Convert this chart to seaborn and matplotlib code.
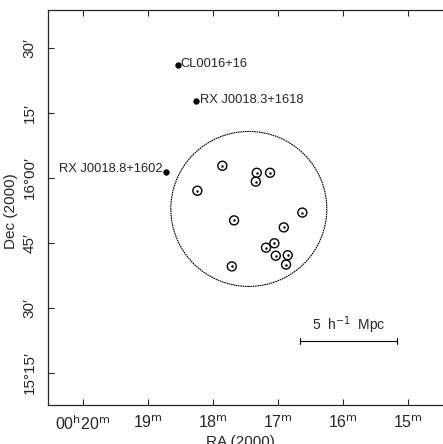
import matplotlib
matplotlib.use("Agg")
import matplotlib.pyplot as plt
from matplotlib.patches import Ellipse
import seaborn as sns
import pandas as pd

sns.set_style("ticks")
plt.rcParams['font.family'] = ['Liberation Sans', 'DejaVu Sans']

# Named sources (RA in minutes past 0h, Dec in degrees)
src_names = ["CL0016+16", "RX J0018.3+1618", "RX J0018.8+1602"]
src_ra = [18.54, 18.26, 18.72]
src_dec = [16.435, 16.296, 16.023]

# Circled objects inside the field
obj_ra = [17.857, 17.328, 17.123, 17.343, 18.242, 16.626, 17.677,
          16.912, 17.057, 17.185, 17.035, 16.851, 16.877, 17.712]
obj_dec = [16.047, 16.020, 16.020, 15.986, 15.951, 15.867, 15.837,
           15.810, 15.749, 15.732, 15.701, 15.703, 15.667, 15.660]

# Field circle
field_center = (17.45, 15.881)
field_size = (2.40, 0.596)

# Scale bar
bar_ra = [16.662, 15.169]
bar_dec = 15.373
bar_label = "5  h$^{-1}$  Mpc"

xticks = [20, 19, 18, 17, 16, 15]
xticklabels = ["00$^{\\rm h}$20$^{\\rm m}$", "19$^{\\rm m}$", "18$^{\\rm m}$",
               "17$^{\\rm m}$", "16$^{\\rm m}$", "15$^{\\rm m}$"]
yticks = [15.25, 15.5, 15.75, 16.0, 16.25, 16.5]
yticklabels = ["15\u00b015\u2032", "30\u2032", "45\u2032", "16\u00b000\u2032", "15\u2032", "30\u2032"]

fig = plt.figure(figsize=(4.43, 4.44), dpi=100)
ax = fig.add_axes([48/443, 39/444, 400/443, 395/444])

src_df = pd.DataFrame({"ra": src_ra, "dec": src_dec, "name": src_names})
obj_df = pd.DataFrame({"ra": obj_ra, "dec": obj_dec})

sns.scatterplot(data=src_df, x="ra", y="dec", ax=ax, color="black", s=16,
                edgecolor="black", linewidth=0.5, zorder=3)
sns.scatterplot(data=obj_df, x="ra", y="dec", ax=ax, s=42, marker="o",
                facecolor="none", edgecolor="black", linewidth=1.0, zorder=3)
sns.scatterplot(data=obj_df, x="ra", y="dec", ax=ax, s=2, color="black",
                edgecolor="black", linewidth=0.3, zorder=4)

ax.add_patch(Ellipse(field_center, field_size[0], field_size[1], fill=False,
                     edgecolor="black", linewidth=0.8, linestyle=(0, (1.5, 0.6))))

fs = 9.3
ax.annotate(src_names[0], (src_ra[0], src_dec[0]), xytext=(1.5, 0.5), textcoords="offset points",
            ha="left", va="center", fontsize=fs)
ax.annotate(src_names[1], (src_ra[1], src_dec[1]), xytext=(2.5, 1), textcoords="offset points",
            ha="left", va="center", fontsize=fs)
ax.annotate(src_names[2], (src_ra[2], src_dec[2]), xytext=(-2.5, 2), textcoords="offset points",
            ha="right", va="center", fontsize=fs)

ax.plot(bar_ra, [bar_dec, bar_dec], color="black", lw=0.8)
for r in bar_ra:
    ax.plot([r, r], [bar_dec - 0.012, bar_dec + 0.012], color="black", lw=0.8)
ax.text(sum(bar_ra) / 2, bar_dec + 0.062, bar_label, ha="center", va="center", fontsize=10)

ax.set_xlim(20.54, 14.385)
ax.set_ylim(15.127, 16.646)
ax.set_xticks(xticks)
ax.set_xticklabels(xticklabels, fontsize=11.5)
ax.set_yticks(yticks)
ax.set_yticklabels(yticklabels, fontsize=11, rotation=90, va="center")
ax.tick_params(direction="in", length=4, width=0.8, top=True, right=False)
ax.tick_params(axis="x", pad=7)
ax.tick_params(axis="y", pad=8)
ax.set_xlabel("RA (2000)", fontsize=11)
ax.xaxis.set_label_coords(0.48, -0.075)
ax.set_ylabel("Dec (2000)", fontsize=11)
ax.yaxis.set_label_coords(-0.075, 0.49)
for sp in ax.spines.values():
    sp.set_linewidth(0.9)

fig.savefig("out.png", dpi=100)
